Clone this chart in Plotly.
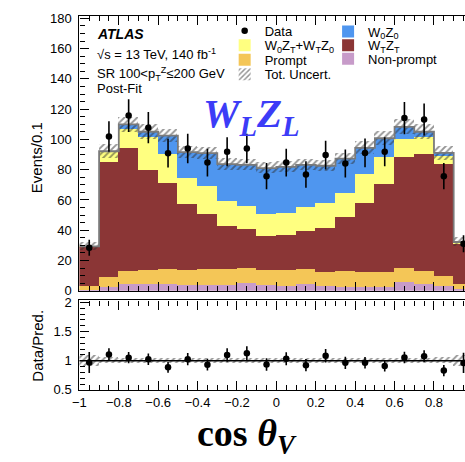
import numpy as np
import plotly.graph_objects as go

# ---------------- data ----------------
bin_centers = [-0.95, -0.85, -0.75, -0.65, -0.55, -0.45, -0.35, -0.25, -0.15, -0.05,
               0.05, 0.15, 0.25, 0.35, 0.45, 0.55, 0.65, 0.75, 0.85, 0.95]
bin_width = 0.1

non_prompt = [0.5, 2.2, 4.4, 4.4, 4.4, 4.0, 3.8, 3.4, 5.1, 4.0,
              2.9, 4.4, 2.9, 2.6, 2.6, 2.6, 5.5, 4.4, 2.9, 1.2]
prompt = [2.5, 6.9, 8.6, 9.0, 9.6, 9.6, 10.2, 10.9, 9.6, 9.4,
          10.5, 9.9, 9.6, 10.4, 9.7, 9.9, 9.6, 8.6, 6.9, 3.2]
wtzt = [26.0, 75.6, 81.0, 66.4, 56.8, 43.3, 36.4, 28.2, 26.1, 22.7,
        23.1, 24.8, 28.8, 35.3, 45.7, 57.7, 73.3, 77.1, 73.9, 26.6]
w0zt_wtz0 = [0.3, 7.1, 12.8, 21.4, 19.3, 17.8, 18.7, 16.5, 15.0, 14.3,
             14.6, 16.3, 16.7, 16.5, 19.2, 18.2, 11.7, 11.1, 5.3, 0.8]
w0z0 = [0.0, 0.4, 3.2, 3.9, 12.4, 16.9, 21.8, 24.7, 27.4, 30.7,
        30.8, 27.8, 24.6, 22.5, 17.2, 12.4, 8.2, 3.9, 2.1, 0.4]

data = [28.4, 101.9, 115.8, 107.8, 90.9, 94.0, 84.7, 91.8, 94.0, 75.7,
        84.7, 76.8, 89.7, 84.1, 91.1, 91.8, 114.1, 113.2, 75.7, 31.0]
data_err = [5.3, 10.1, 10.8, 10.4, 9.5, 9.7, 9.2, 9.6, 9.7, 8.7,
            9.2, 8.8, 9.5, 9.2, 9.5, 9.6, 10.7, 10.6, 8.7, 5.6]
rel_unc = [0.09, 0.05, 0.045, 0.045, 0.045, 0.045, 0.045, 0.045, 0.045, 0.045,
           0.045, 0.045, 0.045, 0.045, 0.045, 0.045, 0.045, 0.045, 0.05, 0.09]

x_tick_step = 0.2
y_tick_step = 20
ratio_tick_step = 0.5

# ---------------- derived quantities ----------------
comp_list = [
    ("Non-prompt", non_prompt, "#c79bc9", "legend7"),
    ("Prompt", prompt, "#f4c657", "legend3"),
    ("W<sub>T</sub>Z<sub>T</sub>", wtzt, "#8b3636", "legend6"),
    ("W<sub>0</sub>Z<sub>T</sub>+W<sub>T</sub>Z<sub>0</sub>", w0zt_wtz0, "#ffff80", "legend2"),
    ("W<sub>0</sub>Z<sub>0</sub>", w0z0, "#4f96ef", "legend5"),
]
arrs = [np.array(c[1]) for c in comp_list]
total = np.sum(arrs, axis=0)
unc = total * np.array(rel_unc)
data_a = np.array(data)
err_a = np.array(data_err)
ratio = data_a / total
ratio_err = err_a / total

W, H = 465, 462
X0, XR = 73.5, W          # plot area left / right (px)
TOP0, TOP1 = 11.5, 294.0  # top panel (px from top)
RAT0, RAT1 = 304.0, 396.0 # ratio panel


def fx(p):
    return p / W


def fy(p):
    return 1 - p / H


fig = go.Figure()

base = np.zeros(len(bin_centers))
for (name, vals, col, lg), a in zip(comp_list, arrs):
    fig.add_trace(go.Bar(
        x=bin_centers, y=a, base=base.copy(), width=bin_width,
        marker=dict(color=col, line=dict(width=0)),
        name=name, legend=lg, xaxis="x2", yaxis="y",
    ))
    base = base + a

hatch = dict(shape="/", fgcolor="#2e2e2e", bgcolor="rgba(0,0,0,0)", size=4.5, solidity=0.4)

fig.add_trace(go.Bar(
    x=bin_centers, y=2 * unc, base=total - unc, width=bin_width,
    marker=dict(color="rgba(0,0,0,0)", pattern=hatch, line=dict(width=0)),
    name="Tot. Uncert.", legend="legend4", xaxis="x2", yaxis="y",
))

# total outline (step)
edges_x = [c - bin_width / 2 for c in bin_centers] + [bin_centers[-1] + bin_width / 2]
edges_y = list(total) + [total[-1]]
fig.add_trace(go.Scatter(
    x=edges_x, y=edges_y, mode="lines", line=dict(color="#7a7a7a", width=1.8, shape="hv"),
    showlegend=False, xaxis="x2", yaxis="y", hoverinfo="skip",
))

fig.add_trace(go.Scatter(
    x=bin_centers, y=data, mode="markers", name="Data", legend="legend",
    marker=dict(color="black", size=6.5),
    error_y=dict(type="data", array=data_err, color="black", thickness=1.6, width=0),
    xaxis="x2", yaxis="y",
))

# ratio panel
fig.add_trace(go.Bar(
    x=bin_centers, y=2 * np.array(rel_unc), base=1 - np.array(rel_unc), width=bin_width,
    marker=dict(color="rgba(0,0,0,0)", pattern=hatch, line=dict(width=0)),
    showlegend=False, xaxis="x", yaxis="y2",
))
fig.add_trace(go.Scatter(
    x=bin_centers, y=ratio, mode="markers", showlegend=False,
    marker=dict(color="black", size=6.5),
    error_y=dict(type="data", array=ratio_err, color="black", thickness=1.6, width=0),
    xaxis="x", yaxis="y2",
))

axis_common = dict(
    showline=True, linecolor="black", linewidth=1.3, ticks="inside", tickcolor="black",
    tickwidth=1.2, showgrid=False, zeroline=False,
    tickfont=dict(family="Liberation Sans, Arial", size=13, color="black"),
)

fig.update_layout(
    width=W, height=H, margin=dict(l=0, r=0, t=0, b=0),
    paper_bgcolor="white", plot_bgcolor="white",
    barmode="overlay", bargap=0,
    font=dict(family="Liberation Sans, Arial", size=13, color="black"),
    xaxis=dict(domain=[fx(X0), 1], range=[-1, -1 + (XR - X0) / 200.0], anchor="y2",
               tick0=-1, dtick=x_tick_step, ticklen=9, mirror="allticks",
               minor=dict(dtick=0.05, ticklen=5, ticks="inside", tickcolor="black", tickwidth=1.2),
               **axis_common),
    xaxis2=dict(domain=[fx(X0), 1], matches="x", anchor="y", showticklabels=False,
                tick0=-1, dtick=x_tick_step, ticklen=9, mirror="allticks",
                minor=dict(dtick=0.05, ticklen=5, ticks="inside", tickcolor="black", tickwidth=1.2),
                **axis_common),
    yaxis=dict(domain=[fy(TOP1), fy(TOP0)], range=[0, (TOP1 - TOP0) / 1.5567], anchor="x2",
               dtick=y_tick_step, ticklen=9, ticklabelstandoff=4,
               minor=dict(dtick=5, ticklen=5, ticks="inside", tickcolor="black", tickwidth=1.2),
               **axis_common),
    yaxis2=dict(domain=[fy(RAT1), fy(RAT0)], range=[0.5, 0.5 + (RAT1 - RAT0) / 60.0], anchor="x",
                dtick=ratio_tick_step, ticklen=9, ticklabelstandoff=4,
                minor=dict(dtick=0.1, ticklen=5, ticks="inside", tickcolor="black", tickwidth=1.2),
                **axis_common),
    shapes=[dict(type="line", xref="x domain", x0=0, x1=1, yref="y2", y0=1, y1=1,
                 line=dict(color="black", width=1.5))],
)

# legends: one per entry so that they can be placed like the reference
leg_font = dict(family="Liberation Sans, Arial", size=13, color="black")
col1_text, col2_text = 261, 366
leg_pos = {              # (text start x, item centre y) in px
    "legend": (col1_text, 29),
    "legend2": (col1_text, 44),
    "legend3": (col1_text, 59),
    "legend4": (col1_text, 74),
    "legend5": (col2_text, 30),
    "legend6": (col2_text, 44),
    "legend7": (col2_text, 58),
}
for lg, (tx, ty) in leg_pos.items():
    fig.update_layout({lg: dict(x=fx(tx - 40), y=fy(ty - 18), xanchor="left", yanchor="top",
                                bgcolor="rgba(0,0,0,0)", borderwidth=0, font=leg_font,
                                itemclick=False, itemdoubleclick=False, tracegroupgap=0)})

ann = []
ann.append(dict(text="<b><i>ATLAS</i></b>", x=fx(89), y=fy(29.5), xanchor="left", yanchor="middle",
                font=dict(size=14)))
ann.append(dict(text="√s = 13 TeV, 140 fb<sup>-1</sup>", x=fx(89), y=fy(50), xanchor="left",
                yanchor="middle", font=dict(size=13)))
ann.append(dict(text="SR 100&lt;p<sub>T</sub><sup>Z</sup>≤200 GeV", x=fx(89), y=fy(71),
                xanchor="left", yanchor="middle", font=dict(size=13)))
ann.append(dict(text="Post-Fit", x=fx(89), y=fy(86), xanchor="left", yanchor="middle",
                font=dict(size=13)))
ann.append(dict(text="<b><i>W<sub>L</sub>Z<sub>L</sub></i></b>", x=fx(248), y=fy(114),
                xanchor="center", yanchor="middle",
                font=dict(family="Liberation Serif, DejaVu Serif", size=41, color="#3c3cf7")))
ann.append(dict(text="Events/0.1", x=fx(30), y=fy(157), textangle=-90, xanchor="center",
                yanchor="middle", font=dict(size=15)))
ann.append(dict(text="Data/Pred.", x=fx(31), y=fy(351), textangle=-90, xanchor="center",
                yanchor="middle", font=dict(size=15)))
ann.append(dict(text="<b>cos <i>θ</i><sub><i>V</i></sub></b>", x=fx(244), y=fy(443),
                xanchor="center", yanchor="middle",
                font=dict(family="Liberation Serif, DejaVu Serif", size=38, color="black")))
for a in ann:
    a.update(xref="paper", yref="paper", showarrow=False)
    a.setdefault("font", {})
    a["font"].setdefault("family", "Liberation Sans, Arial")
    a["font"].setdefault("color", "black")
fig.update_layout(annotations=ann)

fig.write_html("out.html")
